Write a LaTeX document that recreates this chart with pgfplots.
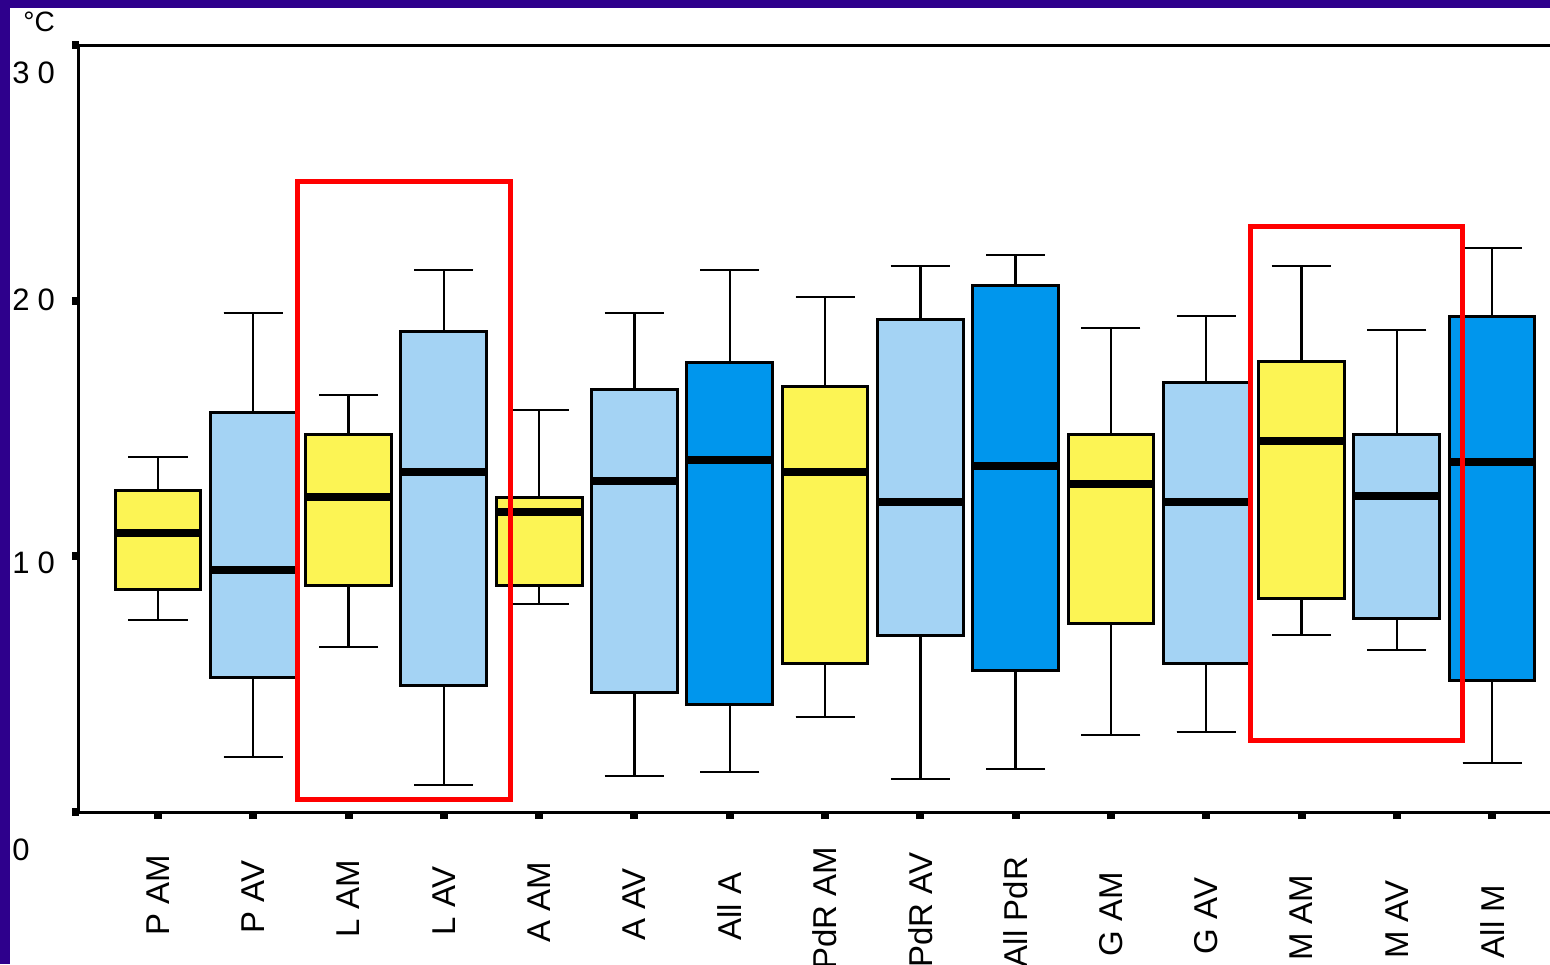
\documentclass[border=0pt]{standalone}
\usepackage{pgfplots}
\pgfplotsset{compat=1.18}
\usepgfplotslibrary{statistics}
\usepackage{fontspec}
\setmainfont{Liberation Sans}
\definecolor{bgpurple}{RGB}{46,0,140}
\definecolor{cyel}{RGB}{252,244,84}
\definecolor{clb}{RGB}{164,211,244}
\definecolor{cdb}{RGB}{0,150,237}
\definecolor{cred}{RGB}{255,0,0}
\begin{document}
\begin{tikzpicture}
\useasboundingbox (-39.5pt,-76pt) rectangle (735.5pt,406pt);
\clip (-39.5pt,-76pt) rectangle (735.5pt,406pt);
\fill[bgpurple] (-39.5pt,-76pt) rectangle (735.5pt,406pt);
\fill[white] (-34.5pt,-76pt) rectangle (735.5pt,402pt);
\begin{axis}[
  at={(0pt,0pt)}, anchor=south west,
  scale only axis, width=735.5pt, height=383.5pt,
  xmin=-0.829, xmax=14.608, ymin=0, ymax=30,
  axis lines=left,
  axis line style={-, line width=1.5pt, black},
  tick align=outside,
  major tick length=3.5pt,
  tick style={line width=4pt, black},
  ytick={0,10,20,30}, yticklabels={\empty,\empty,\empty,\empty},
  xtick={0,...,14},
  xticklabels={P AM, P AV\kern1.9pt, L AM\kern3.8pt, L AV\kern5.7pt, A AM\kern7.6pt, A AV\kern9.5pt, All A\kern11.4pt, PdR AM\kern13.3pt, PdR AV\kern15.2pt, All PdR\kern17.1pt, G AM\kern19pt, G AV\kern20.9pt, M AM\kern22.8pt, M AV\kern24.7pt, All M\kern26.6pt},
  xticklabel style={rotate=90, anchor=center, font=\fontsize{16.5}{18}\selectfont},
  xticklabel shift=38pt,
  clip=false,
  boxplot/draw direction=y,
  boxplot/box extend=0.9,
  boxplot/whisker extend=0.62,
  boxplot/every median/.style={line width=4.2pt, black},
  boxplot/every whisker/.style={line width=1.2pt, black},
  boxplot/every box/.style={line width=1.5pt, draw=black},
]
\addplot[draw=black, fill=cyel, mark=none, boxplot prepared={draw position=0, lower whisker=7.51, lower quartile=8.72, median=10.91, upper quartile=12.59, upper whisker=13.89}] coordinates {};
\addplot[draw=black, fill=clb, mark=none, boxplot prepared={draw position=1, lower whisker=2.15, lower quartile=5.28, median=9.47, upper quartile=15.61, upper whisker=19.52}] coordinates {};
\addplot[draw=black, fill=cyel, mark=none, boxplot prepared={draw position=2, lower whisker=6.45, lower quartile=8.84, median=12.32, upper quartile=14.75, upper whisker=16.31}] coordinates {};
\addplot[draw=black, fill=clb, mark=none, boxplot prepared={draw position=3, lower whisker=1.06, lower quartile=4.93, median=13.30, upper quartile=18.81, upper whisker=21.20}] coordinates {};
\addplot[draw=black, fill=cyel, mark=none, boxplot prepared={draw position=4, lower whisker=8.14, lower quartile=8.84, median=11.73, upper quartile=12.32, upper whisker=15.72}] coordinates {};
\addplot[draw=black, fill=clb, mark=none, boxplot prepared={draw position=5, lower whisker=1.41, lower quartile=4.69, median=12.95, upper quartile=16.54, upper whisker=19.52}] coordinates {};
\addplot[draw=black, fill=cdb, mark=none, boxplot prepared={draw position=6, lower whisker=1.56, lower quartile=4.22, median=13.77, upper quartile=17.60, upper whisker=21.20}] coordinates {};
\addplot[draw=black, fill=cyel, mark=none, boxplot prepared={draw position=7, lower whisker=3.72, lower quartile=5.79, median=13.30, upper quartile=16.66, upper whisker=20.14}] coordinates {};
\addplot[draw=black, fill=clb, mark=none, boxplot prepared={draw position=8, lower whisker=1.29, lower quartile=6.92, median=12.12, upper quartile=19.28, upper whisker=21.36}] coordinates {};
\addplot[draw=black, fill=cdb, mark=none, boxplot prepared={draw position=9, lower whisker=1.68, lower quartile=5.55, median=13.53, upper quartile=20.61, upper whisker=21.79}] coordinates {};
\addplot[draw=black, fill=cyel, mark=none, boxplot prepared={draw position=10, lower whisker=3.01, lower quartile=7.39, median=12.83, upper quartile=14.75, upper whisker=18.93}] coordinates {};
\addplot[draw=black, fill=clb, mark=none, boxplot prepared={draw position=11, lower whisker=3.13, lower quartile=5.79, median=12.12, upper quartile=16.78, upper whisker=19.40}] coordinates {};
\addplot[draw=black, fill=cyel, mark=none, boxplot prepared={draw position=12, lower whisker=6.92, lower quartile=8.37, median=14.51, upper quartile=17.64, upper whisker=21.36}] coordinates {};
\addplot[draw=black, fill=clb, mark=none, boxplot prepared={draw position=13, lower whisker=6.34, lower quartile=7.55, median=12.36, upper quartile=14.75, upper whisker=18.85}] coordinates {};
\addplot[draw=black, fill=cdb, mark=none, boxplot prepared={draw position=14, lower whisker=1.92, lower quartile=5.16, median=13.69, upper quartile=19.40, upper whisker=22.06}] coordinates {};
\draw[cred, line width=2.5pt] (axis cs:1.459,0.47) rectangle (axis cs:3.694,24.68);
\draw[cred, line width=2.5pt] (axis cs:11.46,2.78) rectangle (axis cs:13.69,22.92);
\draw[black, line width=1.5pt] (rel axis cs:0,1) -- (rel axis cs:1.02,1);
\end{axis}
\begin{scope}[every node/.style={font=\fontsize{15.5}{17}\selectfont, inner sep=0pt, anchor=west}]
\node at (-33.5pt,369.5pt) {3\kern4pt 0};
\node at (-33.5pt,256pt) {2\kern4pt 0};
\node at (-33.5pt,124.5pt) {1\kern4pt 0};
\node at (-33.5pt,-19pt) {0};
\node[font=\fontsize{14}{16}\selectfont] at (-28pt,395pt) {°C};
\end{scope}
\end{tikzpicture}
\end{document}
